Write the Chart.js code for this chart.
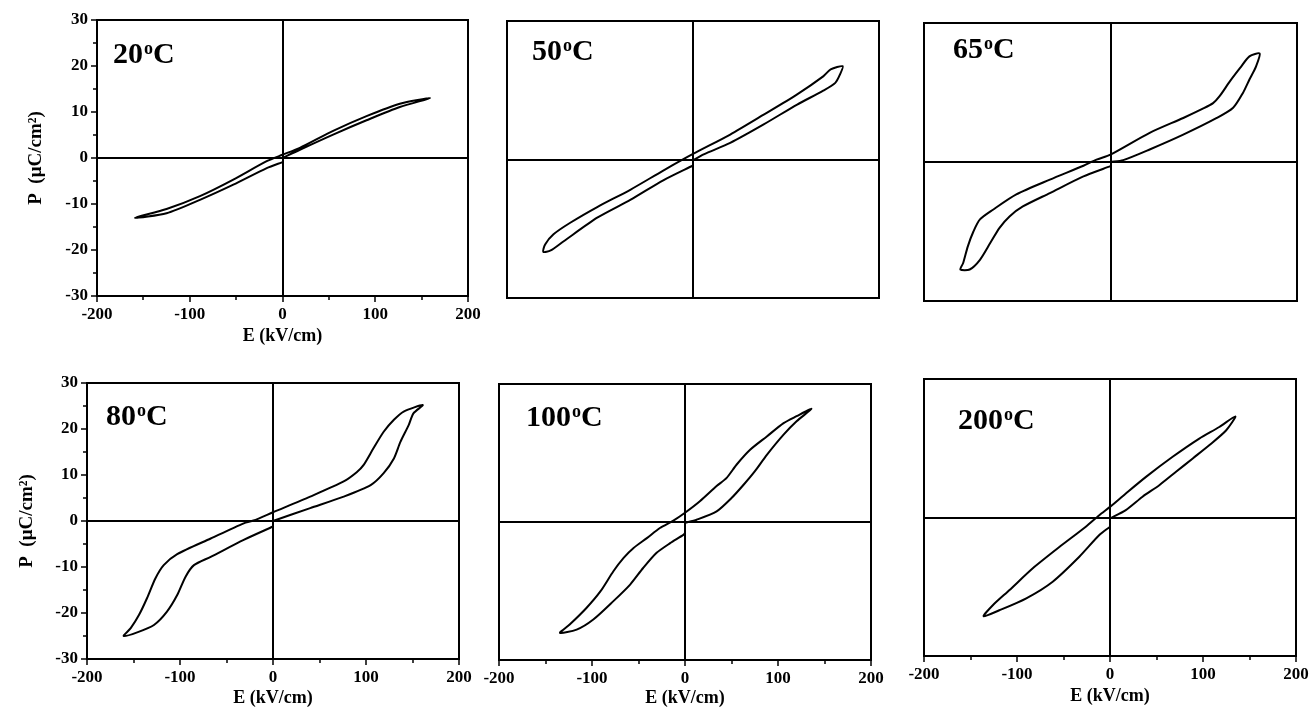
<!DOCTYPE html>
<html>
<head>
<meta charset="utf-8">
<title>P-E hysteresis loops</title>
<script src="https://cdn.jsdelivr.net/npm/chart.js@4.4.1/dist/chart.umd.min.js"></script>
<style>
  html, body { margin: 0; padding: 0; background: #fff; }
  body { position: relative; width: 1312px; height: 709px; overflow: hidden; }
  canvas { position: absolute; }
</style>
</head>
<body>
<canvas id="pe-20"  width="490" height="350" style="left:0;top:0"></canvas>
<canvas id="pe-50"  width="420" height="320" style="left:490px;top:0"></canvas>
<canvas id="pe-65"  width="412" height="320" style="left:900px;top:0"></canvas>
<canvas id="pe-80"  width="480" height="349" style="left:0;top:360px"></canvas>
<canvas id="pe-100" width="430" height="349" style="left:470px;top:360px"></canvas>
<canvas id="pe-200" width="422" height="349" style="left:890px;top:360px"></canvas>
<script>
// E (kV/cm) and P (uC/cm2) along each measured loop:
// 0 -> +Emax -> -Emax -> back to 0
const e20 = [0, 18.7, 54.6, 90.6, 126.5, 159, 126.5, 90.6, 54.6, 18.7, 0, -17, -53, -89, -125, -159, -125, -89, -53, -17, 0];
const p20 = [0, 1.8, 5.1, 8.2, 11.1, 13.0, 11.8, 9.1, 5.9, 2.2, 0.7, -0.7, -4.7, -8.3, -11.1, -13.0, -12.0, -9.1, -5.8, -2.2, -0.9];

const e50 = [0, 11.5, 40, 76, 112, 140, 153, 158, 161, 148, 140, 112, 76, 40, 0, -32, -67, -103, -132, -150, -159, -161, -153, -139, -103, -67, -32, 0];
const p50 = [-0.2, 1.1, 3.6, 7.6, 11.9, 14.9, 16.6, 18.4, 20.2, 19.5, 18.0, 14.1, 9.7, 5.4, 1.2, -2.4, -6.5, -10.3, -13.7, -16.2, -18.4, -20.0, -19.7, -17.7, -12.6, -8.7, -4.5, -1.3];

const e65 = [0, 13.6, 42, 78, 114, 131.5, 142, 149, 156, 160, 149, 139, 128, 117, 110, 99, 78, 42, 0, -15, -29, -65, -101, -126, -140, -147, -153, -158, -161, -151, -140, -129, -119, -108, -94, -65, -29, 0];
const p65 = [0, 0.4, 2.7, 5.9, 9.5, 11.7, 14.9, 17.8, 20.6, 23.4, 22.8, 20.3, 17.4, 14.2, 12.7, 11.5, 9.5, 6.3, 1.6, 0.5, -0.8, -3.8, -7.0, -10.3, -12.4, -15.0, -18.2, -21.8, -23.2, -23.2, -21.1, -17.5, -14.2, -11.7, -9.6, -6.7, -3.1, -0.9];

const e80 = [0, 40, 76, 105, 119, 130, 137, 146, 151, 161, 140.5, 130, 119, 108, 97.5, 90, 76, 40, 0, -21, -31.5, -67, -103, -117.5, -126.5, -135.5, -144, -153, -160.6, -146, -128, -114, -103, -94, -85, -67, -31.5, 0];
const p80 = [0, 2.8, 5.3, 7.8, 10.4, 13.6, 17.2, 20.9, 23.4, 25.2, 23.8, 22.0, 19.4, 15.8, 12.2, 10.6, 8.6, 5.3, 1.9, 0.1, -0.5, -3.8, -7.2, -9.6, -12.5, -16.8, -20.4, -23.3, -25.0, -24.2, -22.6, -19.7, -16.1, -12.1, -9.6, -7.8, -4.1, -1.2];

const e100 = [0, 12.5, 34, 50, 63, 75, 88, 106, 120, 136, 120, 106, 88, 70, 55.6, 44.8, 34, 16, 0, -12.5, -27, -41, -55.6, -66, -77, -91, -106, -124, -134.4, -116.5, -98.6, -77, -59, -45, -30.5, -16, -1.8, 0];
const p100 = [-0.2, 0.5, 2.3, 5.2, 8.1, 11.0, 14.6, 19.0, 21.9, 24.6, 23.0, 21.5, 18.6, 15.7, 12.5, 9.6, 7.8, 4.5, 2.0, 0.3, -1.3, -3.5, -5.7, -7.8, -10.7, -15.1, -18.7, -22.3, -24.1, -23.4, -21.2, -17.2, -13.6, -10.0, -6.7, -4.6, -2.8, -2.4];

const e200 = [0, 17, 35, 53, 71, 89, 107, 125, 134.8, 117.5, 96, 67, 38.7, 17, 0, -11.5, -26, -54.5, -83, -108, -126, -136, -119, -90, -61.6, -33, -11.5, 0];
const p200 = [-0.2, 1.6, 4.5, 7.0, 9.9, 12.8, 15.7, 18.9, 21.9, 19.6, 17.1, 13.1, 8.8, 5.2, 2.3, 0.5, -2.0, -6.4, -11.0, -15.7, -19.0, -21.4, -20.1, -17.5, -13.9, -8.5, -3.8, -2.0];

const eTicks = { min: -200, max: 200, step: 50, major: 100 };
const pTicks = { min: -30, max: 30, step: 5, major: 10 };

Chart.defaults.font.family = '"Liberation Serif", "Times New Roman", serif';
Chart.defaults.font.weight = 'bold';
Chart.defaults.color = '#000';

// closed box round the plot area
const frame = {
  id: 'frame',
  beforeDatasetsDraw(chart) {
    const { ctx, chartArea: a } = chart;
    ctx.save();
    ctx.strokeStyle = '#000';
    ctx.lineWidth = 2;
    ctx.strokeRect(a.left, a.top, a.right - a.left, a.bottom - a.top);
    ctx.restore();
  }
};

// "20ºC" style label in the upper left corner
const tempLabel = {
  id: 'tempLabel',
  afterDraw(chart, args, opts) {
    const { ctx, chartArea } = chart;
    const x = chartArea.left + opts.dx;
    const y = chartArea.top + opts.dy;
    const big = 'bold 30px "Liberation Serif"';
    ctx.save();
    ctx.fillStyle = '#000';
    ctx.textBaseline = 'alphabetic';
    ctx.font = big;
    ctx.fillText(opts.temp, x, y);
    const w = ctx.measureText(opts.temp).width;
    ctx.font = 'bold 18px "Liberation Serif"';
    ctx.fillText('o', x + w + 1, y - 9);
    const wo = ctx.measureText('o').width;
    ctx.font = big;
    ctx.fillText('C', x + w + wo + 1, y);
    ctx.restore();
  }
};

const zeroLine = c => (c.tick && c.tick.value === 0 ? '#000' : 'rgba(0,0,0,0)');
const isMajor = (c, every) => c.tick && c.tick.value % every === 0;

function peLoop(id, temp, E, P, L) {
  const points = E.map((e, i) => ({ x: e, y: P[i] }));
  return new Chart(document.getElementById(id), {
    type: 'scatter',
    data: {
      datasets: [{
        data: points,
        showLine: true,
        borderColor: '#000',
        borderWidth: 2,
        pointRadius: 0,
        tension: 0.25
      }]
    },
    options: {
      responsive: false,
      animation: false,
      layout: { padding: { top: L.top, right: L.right, left: 0, bottom: 0 } },
      plugins: {
        legend: { display: false },
        tooltip: { enabled: false },
        tempLabel: { temp, dx: L.dx, dy: L.dy }
      },
      scales: {
        x: {
          type: 'linear',
          min: eTicks.min, max: eTicks.max,
          afterFit: s => { s.height = L.xHeight; },
          border: { display: true, color: '#000', width: 2 },
          grid: {
            color: zeroLine, lineWidth: 2,
            drawTicks: L.xAxis, tickLength: 6, tickColor: '#000', tickWidth: 1.5,
            // minor ticks: only the part next to the axis
            tickBorderDash: c => (isMajor(c, eTicks.major) ? [] : [3, 20])
          },
          ticks: {
            display: L.xAxis, stepSize: eTicks.step, autoSkip: false, maxRotation: 0, padding: 2,
            font: { size: 17, weight: 'bold' },
            callback: v => (v % eTicks.major === 0 ? String(v) : '')
          },
          title: {
            display: L.xAxis, text: 'E (kV/cm)',
            font: { size: 18, weight: 'bold' },
            padding: { top: 0, bottom: L.xTitlePad }
          }
        },
        y: {
          type: 'linear',
          min: pTicks.min, max: pTicks.max,
          afterFit: s => { s.width = L.yWidth; },
          border: { display: true, color: '#000', width: 2 },
          grid: {
            color: zeroLine, lineWidth: 2,
            drawTicks: L.yAxis, tickLength: 6, tickColor: '#000', tickWidth: 1.5,
            tickBorderDash: c => (isMajor(c, pTicks.major) ? [] : [0, 2, 3, 20])
          },
          ticks: {
            display: L.yAxis, stepSize: pTicks.step, autoSkip: false, padding: 3,
            font: { size: 17, weight: 'bold' },
            callback: v => (v % pTicks.major === 0 ? String(v) : '')
          },
          title: {
            display: L.yAxis, text: 'P  (μC/cm²)',
            font: { size: 19, weight: 'bold' },
            padding: { top: L.yTitlePad, bottom: 0 }
          }
        }
      }
    },
    plugins: [frame, tempLabel]
  });
}

peLoop('pe-20', '20', e20, p20, { top: 20, right: 22, yWidth: 97, xHeight: 54, xAxis: true, yAxis: true, xTitlePad: 3, yTitlePad: 25, dx: 16, dy: 43 });
peLoop('pe-50', '50', e50, p50, { top: 21, right: 31, yWidth: 17, xHeight: 22, xAxis: false, yAxis: false, xTitlePad: 0, yTitlePad: 0, dx: 25, dy: 39 });
peLoop('pe-65', '65', e65, p65, { top: 23, right: 15, yWidth: 24, xHeight: 19, xAxis: false, yAxis: false, xTitlePad: 0, yTitlePad: 0, dx: 29, dy: 35 });
peLoop('pe-80', '80', e80, p80, { top: 23, right: 21, yWidth: 87, xHeight: 50, xAxis: true, yAxis: true, xTitlePad: 0, yTitlePad: 16, dx: 19, dy: 42 });
peLoop('pe-100', '100', e100, p100, { top: 24, right: 29, yWidth: 29, xHeight: 49, xAxis: true, yAxis: false, xTitlePad: 0, yTitlePad: 0, dx: 27, dy: 42 });
peLoop('pe-200', '200', e200, p200, { top: 19, right: 16, yWidth: 34, xHeight: 53, xAxis: true, yAxis: false, xTitlePad: 2, yTitlePad: 0, dx: 34, dy: 50 });
</script>
</body>
</html>
